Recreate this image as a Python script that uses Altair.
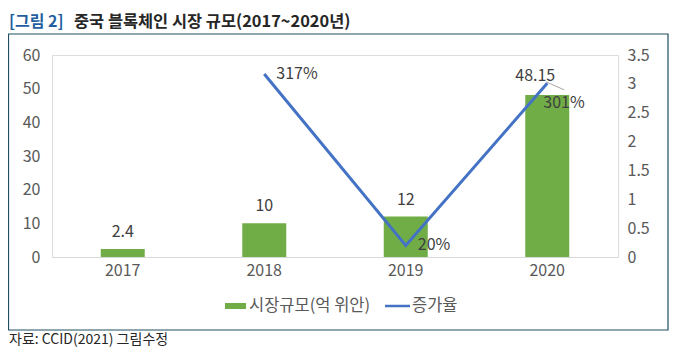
import altair as alt
import pandas as pd

# ---- data ----
years = ["2017", "2018", "2019", "2020"]
market = [2.4, 10, 12, 48.15]          # 시장규모(억 위안)
growth_years = ["2018", "2019", "2020"]
growth = [3.17, 0.20, 3.01]            # 증가율 (ratio)
left_ticks = [0, 10, 20, 30, 40, 50, 60]
right_ticks = [0, 0.5, 1, 1.5, 2, 2.5, 3, 3.5]
legend_labels = ["시장규모(억 위안)", "증가율"]
title_prefix = "[그림 2]"
title_rest = "중국 블록체인 시장 규모(2017~2020년)"
source_text = "자료: CCID(2021) 그림수정"

FONT = "Noto Sans CJK KR"
GREEN = "#70ad47"
BLUE = "#4472c4"
AXIS_GRAY = "#595959"
LABEL_GRAY = "#404040"

bar_df = pd.DataFrame({"year": years, "market": market})
line_df = pd.DataFrame({"year": growth_years, "growth": growth})
one = pd.DataFrame({"k": [0]})

W, H = 566, 202

xscale = alt.Scale(domain=years, paddingInner=0, paddingOuter=0)
x_axis = alt.Axis(title=None, labelAngle=0, ticks=False, domain=True,
                  domainColor="#d9d9d9", domainWidth=1, grid=False,
                  labelFont=FONT, labelFontSize=16, labelColor=AXIS_GRAY,
                  labelPadding=5)
x_enc = alt.X("year:N", scale=xscale, sort=years, axis=x_axis)

yl_scale = alt.Scale(domain=[0, 60], nice=False)
yr_scale = alt.Scale(domain=[0, 3.5], nice=False)
yl_axis = alt.Axis(title=None, values=left_ticks, tickCount=7, ticks=False, domain=False,
                   grid=False, labelFont=FONT, labelFontSize=16, labelOverlap=False,
                   labelColor=AXIS_GRAY, labelPadding=12, orient="left")
yr_axis = alt.Axis(title=None, values=right_ticks, tickCount=8, format="~g", ticks=False,
                   domain=False, grid=False, labelFont=FONT, labelFontSize=16,
                   labelOverlap=False, labelColor=AXIS_GRAY, labelPadding=9,
                   orient="right")
yl_enc = alt.Y("market:Q", scale=yl_scale, axis=yl_axis)
yr_enc = alt.Y("growth:Q", scale=yr_scale, axis=yr_axis)

base_bar = alt.Chart(bar_df)

bars = base_bar.mark_bar(color=GREEN, width=44).encode(x=x_enc, y=yl_enc)

bar_labels = base_bar.transform_filter(alt.datum.year != "2020").mark_text(
    font=FONT, fontSize=16, color=LABEL_GRAY, dy=-17, baseline="middle"
).encode(x=x_enc, y=yl_enc, text=alt.Text("market:Q", format="~g"))

bar_label_2020 = base_bar.transform_filter(alt.datum.year == "2020").mark_text(
    font=FONT, fontSize=16, color=LABEL_GRAY, dx=-12, dy=-19, baseline="middle"
).encode(x=x_enc, y=yl_enc, text=alt.Text("market:Q", format="~g"))

leader = base_bar.transform_filter(alt.datum.year == "2020").mark_rule(
    color="#a6a6a6", strokeWidth=1,
    xOffset=-1, x2Offset=17, yOffset=-13, y2Offset=-5
).encode(x=x_enc, x2=alt.X2("year"), y=yl_enc, y2=alt.Y2("market"))

# decorations (box, title, source, legend)
box = alt.Chart(one).mark_rect(fill="transparent", stroke="#1f4e62", strokeWidth=1.2).encode(
    x=alt.value(-43.5), x2=alt.value(616), y=alt.value(-21), y2=alt.value(275))

t1 = alt.Chart(one).mark_text(font=FONT, fontSize=16, fontWeight="bold", color="#1f5f9f",
                              align="left", baseline="middle").encode(
    x=alt.value(-43), y=alt.value(-33), text=alt.value(title_prefix))
t2 = alt.Chart(one).mark_text(font=FONT, fontSize=16.4, fontWeight="bold", color="#262626",
                              align="left", baseline="middle").encode(
    x=alt.value(22), y=alt.value(-33), text=alt.value(title_rest))
src = alt.Chart(one).mark_text(font=FONT, fontSize=14, color="#262626",
                               align="left", baseline="middle").encode(
    x=alt.value(-43), y=alt.value(285), text=alt.value(source_text))

leg_rect = alt.Chart(one).mark_rect(color=GREEN).encode(
    x=alt.value(173), x2=alt.value(194), y=alt.value(248), y2=alt.value(254))
leg_t1 = alt.Chart(one).mark_text(font=FONT, fontSize=16.5, color=AXIS_GRAY,
                                  align="left", baseline="middle").encode(
    x=alt.value(197), y=alt.value(251), text=alt.value(legend_labels[0]))
leg_line = alt.Chart(one).mark_rule(color=BLUE, strokeWidth=2.5).encode(
    x=alt.value(333), x2=alt.value(358), y=alt.value(251))
leg_t2 = alt.Chart(one).mark_text(font=FONT, fontSize=16.5, color=AXIS_GRAY,
                                  align="left", baseline="middle").encode(
    x=alt.value(360), y=alt.value(251), text=alt.value(legend_labels[1]))

left = alt.layer(box, t1, t2, src, leg_rect, leg_t1, leg_line, leg_t2,
                 bars, bar_labels, leader, bar_label_2020)

base_line = alt.Chart(line_df)
line = base_line.mark_line(color=BLUE, strokeWidth=3).encode(x=x_enc, y=yr_enc)
line_labels = base_line.transform_filter(alt.datum.year != "2020").mark_text(
    font=FONT, fontSize=16, color=LABEL_GRAY, align="left", dx=12, dy=0, baseline="middle"
).encode(x=x_enc, y=yr_enc, text=alt.Text("growth:Q", format=".0%"))
line_label_2020 = base_line.transform_filter(alt.datum.year == "2020").mark_text(
    font=FONT, fontSize=16, color=LABEL_GRAY, align="left", dx=-4, dy=20, baseline="middle"
).encode(x=x_enc, y=yr_enc, text=alt.Text("growth:Q", format=".0%"))

right = alt.layer(line, line_labels, line_label_2020)

chart = alt.layer(left, right).resolve_scale(y="independent").properties(
    width=W, height=H,
    autosize=alt.AutoSizeParams(type="none"),
    padding={"left": 44, "top": 47, "right": 51, "bottom": 93},
).configure_view(stroke=None).configure(background="white")

chart.save("out.html", embed_options={"renderer": "svg", "actions": False})
